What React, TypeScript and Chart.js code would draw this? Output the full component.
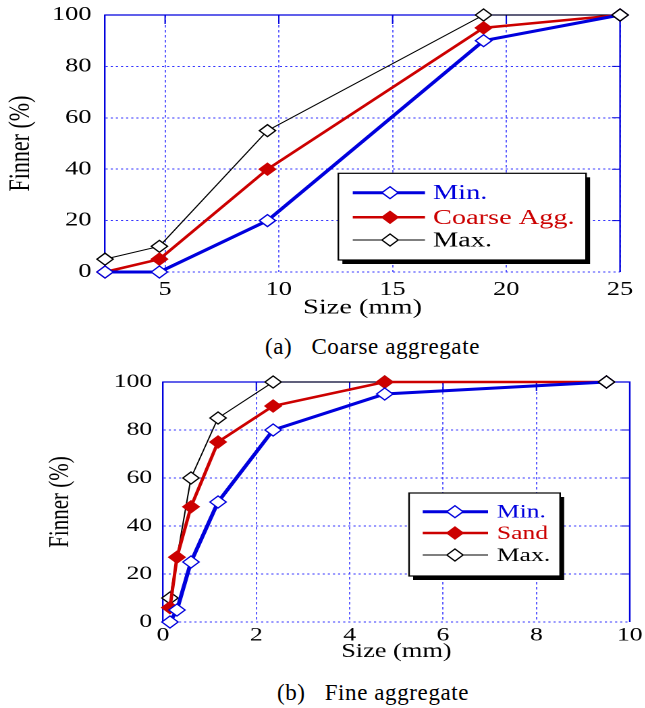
import React, { useEffect, useRef } from 'react';
import { Chart, registerables } from 'chart.js';

Chart.register(...registerables);

// ---------- data ----------
const coarseSizes = [2.36, 4.75, 9.5, 19, 25];
const coarseMin = [0, 0, 20, 90, 100];
const coarseAgg = [0, 5, 40, 95, 100];
const coarseMax = [5, 10, 55, 100, 100];
const coarseXTicks = [5, 10, 15, 20, 25];

const fineSizes = [0.15, 0.3, 0.6, 1.18, 2.36, 4.75, 9.5];
const fineMin = [0, 5, 25, 50, 80, 95, 100];
const fineSand = [6, 27, 48, 75, 90, 100, 100];
const fineMaxSizes = [0.15, 0.6, 1.18, 2.36, 4.75, 9.5];
const fineMax = [10, 60, 85, 100, 100, 100];
const fineXTicks = [0, 2, 4, 6, 8, 10];

const yTicks = [0, 20, 40, 60, 80, 100];

const coarseLabels = ['Min.', 'Coarse Agg.', 'Max.'];
const fineLabels = ['Min.', 'Sand', 'Max.'];

// ---------- styles ----------
const SX = 1.35; // horizontal stretch of the original figure
const CW = 478; // canvas css width before stretch
const SERIF = '"Liberation Serif", "Times New Roman", Times, serif';
const BLUE = '#0000dd';
const RED = '#cc0000';
const BLACK = '#000000';
const GRID = '#3535ff';

const toXY = (xs: number[], ys: number[]) => xs.map((x, i) => ({ x, y: ys[i] }));

function seriesStyles() {
  return [
    {
      borderColor: BLUE,
      borderWidth: 3,
      pointBackgroundColor: '#ffffff',
      pointBorderColor: BLUE,
    },
    {
      borderColor: RED,
      borderWidth: 2.5,
      pointBackgroundColor: RED,
      pointBorderColor: RED,
    },
    {
      borderColor: BLACK,
      borderWidth: 1,
      pointBackgroundColor: '#ffffff',
      pointBorderColor: BLACK,
    },
  ];
}

function buildDatasets(labels: string[], series: { x: number; y: number }[][]) {
  const st = seriesStyles();
  return series.map((data, i) => ({
    label: labels[i],
    data,
    ...st[i],
    pointStyle: 'rectRot',
    pointRadius: 6,
    pointBorderWidth: 1.2,
    pointHoverRadius: 6,
    tension: 0,
    clip: false as const,
  }));
}

type LegendLayout = {
  x: number; y: number; w: number; h: number;
  rows: number[]; x0: number; x1: number; mark: number; text: number; font: number;
};

function makeFramePlugin(lg: LegendLayout) {
  return {
    id: 'frame',
    beforeDatasetsDraw(chart: any) {
      const { ctx, chartArea: a, scales } = chart;
      ctx.save();
      ctx.strokeStyle = BLUE;
      ctx.lineWidth = 1.2;
      ctx.beginPath();
      ctx.moveTo(a.left, a.top);
      ctx.lineTo(a.right, a.top);
      ctx.lineTo(a.right, a.bottom);
      ctx.stroke();
      ctx.lineWidth = 1;
      ctx.beginPath();
      scales.x.ticks.forEach((t: any) => {
        const px = scales.x.getPixelForValue(t.value);
        if (px > a.left + 1 && px < a.right - 1) {
          ctx.moveTo(px, a.top);
          ctx.lineTo(px, a.top + 9);
        }
      });
      scales.y.ticks.forEach((t: any) => {
        const py = scales.y.getPixelForValue(t.value);
        if (py > a.top + 1 && py < a.bottom - 1) {
          ctx.moveTo(a.right, py);
          ctx.lineTo(a.right - 6, py);
        }
      });
      ctx.stroke();
      ctx.restore();
    },
    afterDatasetsDraw(chart: any) {
      const n = chart.data.datasets.length;
      const meta = chart.getDatasetMeta(n - 1);
      const last = meta.data[meta.data.length - 1];
      if (last) last.draw(chart.ctx, chart.chartArea);
    },
    afterDraw(chart: any) {
      const { ctx } = chart;
      ctx.save();
      ctx.fillStyle = '#000';
      ctx.fillRect(lg.x + 3, lg.y + 4, lg.w, lg.h);
      ctx.fillStyle = '#fff';
      ctx.fillRect(lg.x, lg.y, lg.w, lg.h);
      ctx.strokeStyle = '#000';
      ctx.lineWidth = 1.2;
      ctx.strokeRect(lg.x, lg.y, lg.w, lg.h);
      chart.data.datasets.forEach((ds: any, i: number) => {
        const ry = lg.y + lg.rows[i];
        ctx.strokeStyle = ds.borderColor;
        ctx.lineWidth = ds.borderWidth;
        ctx.beginPath();
        ctx.moveTo(lg.x + lg.x0, ry);
        ctx.lineTo(lg.x + lg.x1, ry);
        ctx.stroke();
        const cx = lg.x + lg.mark;
        const r = ds.pointRadius;
        ctx.beginPath();
        ctx.moveTo(cx - r, ry);
        ctx.lineTo(cx, ry - r);
        ctx.lineTo(cx + r, ry);
        ctx.lineTo(cx, ry + r);
        ctx.closePath();
        ctx.fillStyle = ds.pointBackgroundColor;
        ctx.fill();
        ctx.strokeStyle = ds.pointBorderColor;
        ctx.lineWidth = ds.pointBorderWidth;
        ctx.stroke();
        ctx.fillStyle = ds.borderColor;
        ctx.font = `${lg.font}px ${SERIF}`;
        ctx.textAlign = 'left';
        ctx.textBaseline = 'middle';
        ctx.fillText(ds.label, lg.x + lg.text, ry + 1);
      });
      ctx.restore();
    },
  };
}

type Geo = {
  height: number;
  pad: { top: number; right: number; bottom: number; left: number };
  yWidth: number; xHeight: number;
  tickFont: number; xTickPad: number; yTickPad: number;
  xTitleFont: number; xTitlePadBottom: number;
  yTitleFont: number; yTitlePadTop: number;
  xMin: number; xMax: number; xTicks: number[];
};

function buildConfig(datasets: any[], geo: Geo, legend: LegendLayout) {
  return {
    type: 'line' as const,
    data: { datasets },
    plugins: [makeFramePlugin(legend)],
    options: {
      responsive: false,
      animation: false as const,
      devicePixelRatio: 2,
      layout: { padding: geo.pad, autoPadding: false },
      plugins: { legend: { display: false }, tooltip: { enabled: false } },
      events: [],
      scales: {
        x: {
          type: 'linear' as const,
          min: geo.xMin,
          max: geo.xMax,
          afterBuildTicks: (s: any) => {
            s.ticks = geo.xTicks.map((v) => ({ value: v }));
          },
          afterFit: (s: any) => {
            s.height = geo.xHeight;
          },
          grid: { color: GRID, lineWidth: 0.8, drawTicks: false },
          border: { display: false, dash: [2.5, 2.5] },
          ticks: {
            padding: geo.xTickPad,
            color: '#000',
            font: { family: SERIF, size: geo.tickFont },
            maxRotation: 0,
          },
          title: {
            display: true,
            text: 'Size (mm)',
            color: '#000',
            font: { family: SERIF, size: geo.xTitleFont },
            padding: { top: 0, bottom: geo.xTitlePadBottom },
          },
        },
        y: {
          type: 'linear' as const,
          min: 0,
          max: 100,
          afterBuildTicks: (s: any) => {
            s.ticks = yTicks.map((v) => ({ value: v }));
          },
          afterFit: (s: any) => {
            s.width = geo.yWidth;
          },
          grid: { color: GRID, lineWidth: 1, drawTicks: false },
          border: { display: true, color: BLUE, width: 1.2, dash: [1.6, 2.2] },
          ticks: {
            padding: geo.yTickPad,
            color: '#000',
            font: { family: SERIF, size: geo.tickFont, lineHeight: 0.2 },
          },
          title: {
            display: true,
            text: 'Finner (%)',
            color: '#000',
            font: { family: SERIF, size: geo.yTitleFont },
            padding: { top: geo.yTitlePadTop, bottom: 0 },
          },
        },
      },
    },
  };
}

function ChartCanvas({ config, height, top }: { config: any; height: number; top: number }) {
  const ref = useRef<HTMLCanvasElement | null>(null);
  useEffect(() => {
    if (!ref.current) return;
    const chart = new Chart(ref.current, config);
    return () => chart.destroy();
  }, [config]);
  return (
    <div
      style={{
        position: 'absolute',
        left: 0,
        top,
        width: CW,
        height,
        transform: `scaleX(${SX})`,
        transformOrigin: '0 0',
      }}
    >
      <canvas ref={ref} width={CW} height={height} style={{ width: CW, height, display: 'block' }} />
    </div>
  );
}

const coarseConfig = buildConfig(
  buildDatasets(coarseLabels, [
    toXY(coarseSizes, coarseMin),
    toXY(coarseSizes, coarseAgg),
    toXY(coarseSizes, coarseMax),
  ]),
  {
    height: 322,
    pad: { top: 15, right: 18.7, bottom: 1.5, left: 0 },
    yWidth: 77.8,
    xHeight: 48.5,
    tickFont: 19.5,
    xTickPad: 6,
    yTickPad: 10,
    xTitleFont: 21,
    xTitlePadBottom: 0,
    yTitleFont: 22,
    yTitlePadTop: 2.4,
    xMin: 2.36,
    xMax: 25,
    xTicks: coarseXTicks,
  },
  { x: 250.6, y: 173.3, w: 183.5, h: 86.7, rows: [19.4, 44, 66.7], x0: 10.7, x1: 64.2, mark: 38.3, text: 70.1, font: 21 }
);

const fineConfig = buildConfig(
  buildDatasets(fineLabels, [
    toXY(fineSizes, fineMin),
    toXY(fineSizes, fineSand),
    toXY(fineMaxSizes, fineMax),
  ]),
  {
    height: 310,
    pad: { top: 22, right: 10, bottom: 3, left: 0 },
    yWidth: 120.7,
    xHeight: 45,
    tickFont: 19,
    xTickPad: 2,
    yTickPad: 8,
    xTitleFont: 19.5,
    xTitlePadBottom: 3.5,
    yTitleFont: 21,
    yTitlePadTop: 32.6,
    xMin: 0,
    xMax: 10,
    xTicks: fineXTicks,
  },
  { x: 303, y: 133, w: 111.9, h: 83, rows: [18.7, 40, 62], x0: 10.1, x1: 58.5, mark: 34, text: 65, font: 19 }
);

const captionStyle: React.CSSProperties = {
  position: 'absolute',
  fontFamily: SERIF,
  fontSize: 23,
  letterSpacing: 0.6,
  lineHeight: '26px',
  whiteSpace: 'pre',
  color: '#000',
};

export default function App() {
  return (
    <div style={{ position: 'absolute', left: 0, top: 0, width: 645, height: 708, background: '#fff', overflow: 'hidden' }}>
      <ChartCanvas config={coarseConfig} height={322} top={0} />
      <div style={{ ...captionStyle, left: 265, top: 334 }}>{'(a)   Coarse aggregate'}</div>
      <ChartCanvas config={fineConfig} height={310} top={360} />
      <div style={{ ...captionStyle, left: 277, top: 680 }}>{'(b)   Fine aggregate'}</div>
    </div>
  );
}
